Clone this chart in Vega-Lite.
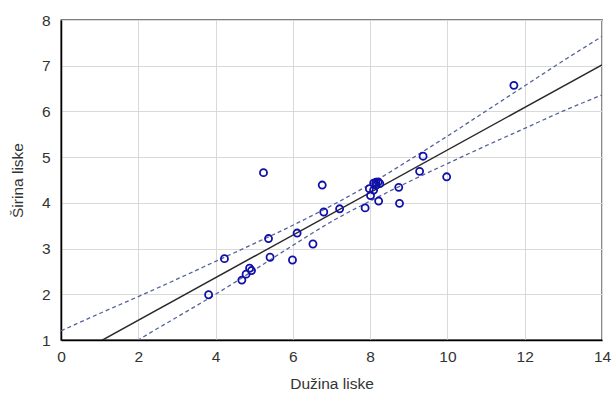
{
  "$schema": "https://vega.github.io/schema/vega-lite/v6.json",
  "autosize": "none",
  "width": 541,
  "height": 320,
  "padding": {"left": 61, "top": 20, "right": 10, "bottom": 56},
  "background": "white",
  "config": {
    "view": {"stroke": "#000000", "strokeWidth": 1.3},
    "font": "Liberation Sans",
    "axis": {
      "labelFont": "Liberation Sans",
      "titleFont": "Liberation Sans",
      "labelFontSize": 15.5,
      "titleFontSize": 15.5,
      "titleFontWeight": "normal",
      "labelColor": "#333333",
      "titleColor": "#333333",
      "domainColor": "#000000",
      "domainWidth": 1.5,
      "ticks": false,
      "gridColor": "#d9d9d9",
      "gridWidth": 1
    }
  },
  "datasets": {
    "pts": [
      {"x": 3.82, "y": 1.99}, {"x": 4.23, "y": 2.78}, {"x": 4.68, "y": 2.31}, {"x": 4.79, "y": 2.44},
      {"x": 4.88, "y": 2.57}, {"x": 4.93, "y": 2.52}, {"x": 5.24, "y": 4.66}, {"x": 5.37, "y": 3.22},
      {"x": 5.41, "y": 2.81}, {"x": 5.99, "y": 2.75}, {"x": 6.11, "y": 3.34}, {"x": 6.52, "y": 3.10},
      {"x": 6.76, "y": 4.39}, {"x": 6.80, "y": 3.80}, {"x": 7.21, "y": 3.87}, {"x": 7.87, "y": 3.89},
      {"x": 7.98, "y": 4.31}, {"x": 8.01, "y": 4.16}, {"x": 8.09, "y": 4.28}, {"x": 8.09, "y": 4.43},
      {"x": 8.15, "y": 4.39}, {"x": 8.21, "y": 4.46}, {"x": 8.15, "y": 4.45}, {"x": 8.25, "y": 4.42},
      {"x": 8.22, "y": 4.04}, {"x": 8.74, "y": 4.34}, {"x": 8.76, "y": 3.99}, {"x": 9.28, "y": 4.69},
      {"x": 9.37, "y": 5.02}, {"x": 9.98, "y": 4.57}, {"x": 11.72, "y": 6.57}
    ],
    "fit": [
      {"x": 0, "y": 0.5}, {"x": 14, "y": 7.02}
    ],
    "bands": [
      {"x": 0, "y": 1.20, "band": "upper"}, {"x": 1, "y": 1.58, "band": "upper"}, {"x": 2, "y": 1.95, "band": "upper"},
      {"x": 3, "y": 2.33, "band": "upper"}, {"x": 4, "y": 2.72, "band": "upper"}, {"x": 5, "y": 3.11, "band": "upper"},
      {"x": 6, "y": 3.51, "band": "upper"}, {"x": 7, "y": 3.94, "band": "upper"}, {"x": 8, "y": 4.41, "band": "upper"},
      {"x": 9, "y": 4.93, "band": "upper"}, {"x": 10, "y": 5.46, "band": "upper"}, {"x": 11, "y": 6.01, "band": "upper"},
      {"x": 12, "y": 6.56, "band": "upper"}, {"x": 13, "y": 7.11, "band": "upper"}, {"x": 14, "y": 7.64, "band": "upper"},
      {"x": 0, "y": -0.10, "band": "lower"}, {"x": 1, "y": 0.45, "band": "lower"}, {"x": 2, "y": 1.00, "band": "lower"},
      {"x": 3, "y": 1.50, "band": "lower"}, {"x": 4, "y": 2.00, "band": "lower"}, {"x": 5, "y": 2.53, "band": "lower"},
      {"x": 6, "y": 3.07, "band": "lower"}, {"x": 7, "y": 3.59, "band": "lower"}, {"x": 8, "y": 4.04, "band": "lower"},
      {"x": 9, "y": 4.46, "band": "lower"}, {"x": 10, "y": 4.86, "band": "lower"}, {"x": 11, "y": 5.25, "band": "lower"},
      {"x": 12, "y": 5.63, "band": "lower"}, {"x": 13, "y": 6.01, "band": "lower"}, {"x": 14, "y": 6.36, "band": "lower"}
    ]
  },
  "encoding": {
    "x": {
      "field": "x", "type": "quantitative",
      "scale": {"domain": [0, 14], "nice": false, "zero": false},
      "axis": {
        "title": "Dužina liske",
        "titlePadding": 12,
        "values": [0, 2, 4, 6, 8, 10, 12, 14],
        "format": "d",
        "labelPadding": 9,
        "labelFlush": false
      }
    },
    "y": {
      "field": "y", "type": "quantitative",
      "scale": {"domain": [1, 8], "nice": false, "zero": false},
      "axis": {
        "title": "Širina liske",
        "titlePadding": 16,
        "values": [1, 2, 3, 4, 5, 6, 7, 8],
        "format": "d",
        "labelPadding": 11,
        "labelFlush": false
      }
    }
  },
  "layer": [
    {
      "data": {"name": "bands"},
      "mark": {"type": "line", "clip": true, "color": "#55639a", "strokeWidth": 1.3, "strokeDash": [4, 3], "interpolate": "monotone"},
      "encoding": {"detail": {"field": "band", "type": "nominal"}}
    },
    {
      "data": {"name": "fit"},
      "mark": {"type": "line", "clip": true, "color": "#2a2a2a", "strokeWidth": 1.5}
    },
    {
      "data": {"name": "pts"},
      "mark": {"type": "point", "shape": "circle", "filled": false, "opacity": 1, "color": "#1010a8", "strokeWidth": 1.8, "size": 50}
    }
  ]
}
